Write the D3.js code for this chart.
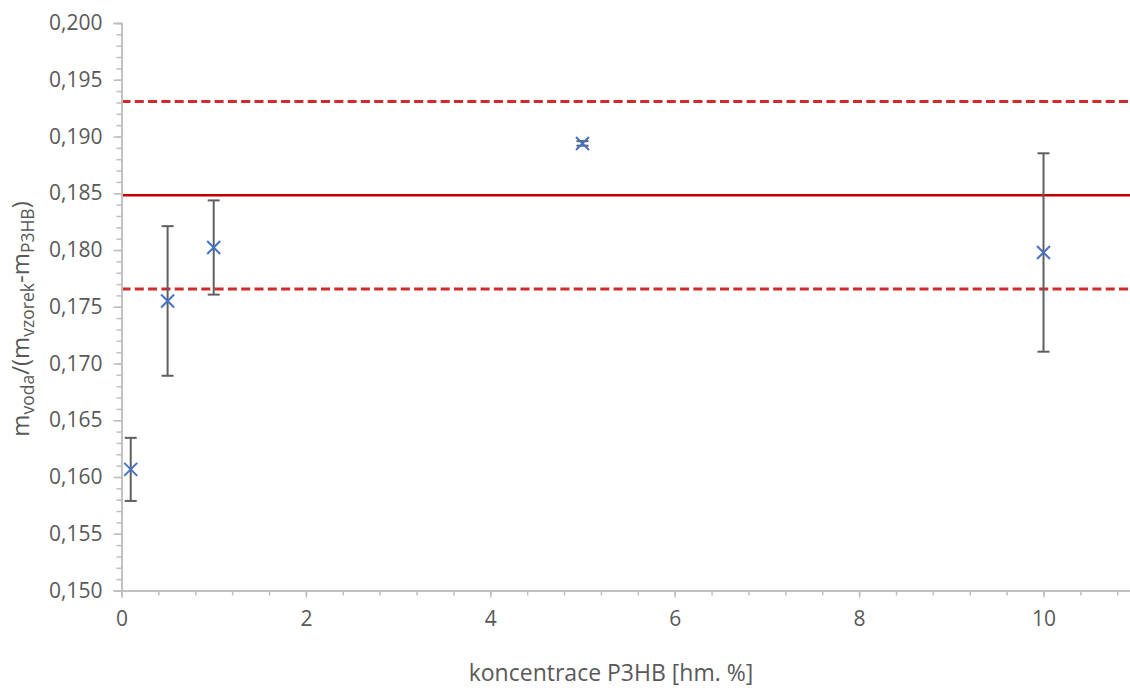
<!DOCTYPE html>
<html>
<head>
<meta charset="utf-8">
<script src="https://cdn.jsdelivr.net/npm/d3@7"></script>
<style>
  html, body { margin: 0; padding: 0; background: #fff; }
  svg { display: block; }
  text { font-family: "Open Sans", sans-serif; fill: #595959; }
</style>
</head>
<body>
<svg id="chart" width="1130" height="695"></svg>
<script>
// Water uptake ratio vs. P3HB concentration
const concentration = [0.1, 0.5, 1, 5, 10];
const ratio = [0.16067, 0.17551, 0.18022, 0.18939, 0.17978];
const ratioErr = [0.00278, 0.00659, 0.00415, 0.0002, 0.00874];

// mean and its band
const meanValue = 0.18483;
const bandLow = 0.17657;
const bandHigh = 0.19309;

const xMajorTicks = [0, 2, 4, 6, 8, 10];
const yMajorTicks = [0.150, 0.155, 0.160, 0.165, 0.170, 0.175, 0.180, 0.185, 0.190, 0.195, 0.200];

const svg = d3.select("#chart");
const plotLeft = 121.5, plotTop = 23, plotBottom = 590.5;
const x = d3.scaleLinear().domain([0, 11]).range([plotLeft, plotLeft + 11 * 92.2]);
const y = d3.scaleLinear().domain([0.150, 0.200]).range([plotBottom, plotTop]);

const axisColor = "#bfbfbf";
const fmt = v => d3.format(".3f")(v).replace(".", ",");

// reference lines (mean and band)
const refs = [
  { v: bandHigh, dash: "9,4.3", color: "#d02a2a", w: 3 },
  { v: meanValue, dash: null, color: "#c00000", w: 2.6 },
  { v: bandLow, dash: "9,4.3", color: "#d02a2a", w: 3 }
];
svg.append("g").selectAll("line").data(refs).join("line")
  .attr("x1", x(0)).attr("x2", 1130)
  .attr("y1", d => y(d.v)).attr("y2", d => y(d.v))
  .attr("stroke", d => d.color)
  .attr("stroke-width", d => d.w)
  .attr("stroke-dasharray", d => d.dash);

// y axis: minor ticks every 0.001, labelled majors every 0.005
const yMinor = d3.range(150, 201).map(v => v / 1000);
const yAxisG = svg.append("g").attr("transform", `translate(${plotLeft},0)`);
yAxisG.call(d3.axisLeft(y).tickValues(yMinor).tickSize(5).tickFormat(""));
yAxisG.append("g").call(d3.axisLeft(y).tickValues(yMajorTicks).tickSize(8).tickPadding(11).tickFormat(fmt));
yAxisG.selectAll("path.domain").attr("stroke", axisColor).attr("stroke-width", 1.5);
yAxisG.selectAll(".tick line").attr("stroke", axisColor).attr("stroke-width", 1.5);
yAxisG.selectAll("text").attr("font-size", 21).attr("fill", "#595959")
  .attr("font-family", "Open Sans, sans-serif");

// x axis: minor ticks every 0.4, labelled majors every 2
const xMinor = d3.range(0, 28).map(i => i * 0.4);
const xAxisG = svg.append("g").attr("transform", `translate(0,${plotBottom})`);
xAxisG.call(d3.axisBottom(x).tickValues(xMinor).tickSize(5).tickFormat(""));
xAxisG.append("g").call(d3.axisBottom(x).tickValues(xMajorTicks).tickSize(7).tickPadding(14).tickFormat(d3.format("d")));
xAxisG.selectAll("path.domain").attr("stroke", axisColor).attr("stroke-width", 1.5);
xAxisG.selectAll(".tick line").attr("stroke", axisColor).attr("stroke-width", 1.5);
xAxisG.selectAll("text").attr("font-size", 21).attr("fill", "#595959")
  .attr("font-family", "Open Sans, sans-serif");

// error bars
const pts = concentration.map((c, i) => ({ c, v: ratio[i], e: ratioErr[i] }));
const eb = svg.append("g").attr("stroke", "#5f5f5f").attr("stroke-width", 2);
eb.selectAll("line.stem").data(pts).join("line").attr("class", "stem")
  .attr("x1", d => x(d.c)).attr("x2", d => x(d.c))
  .attr("y1", d => y(d.v - d.e)).attr("y2", d => y(d.v + d.e));
eb.selectAll("line.capT").data(pts).join("line").attr("class", "capT")
  .attr("x1", d => x(d.c) - 6).attr("x2", d => x(d.c) + 6)
  .attr("y1", d => y(d.v + d.e)).attr("y2", d => y(d.v + d.e));
eb.selectAll("line.capB").data(pts).join("line").attr("class", "capB")
  .attr("x1", d => x(d.c) - 6).attr("x2", d => x(d.c) + 6)
  .attr("y1", d => y(d.v - d.e)).attr("y2", d => y(d.v - d.e));

// X markers
const s = 6.5;
svg.append("g").selectAll("path").data(pts).join("path")
  .attr("d", d => {
    const cx = x(d.c), cy = y(d.v);
    return `M${cx - s},${cy - s}L${cx + s},${cy + s}M${cx - s},${cy + s}L${cx + s},${cy - s}`;
  })
  .attr("stroke", "#4472c4").attr("stroke-width", 2).attr("fill", "none");

// axis titles
svg.append("text")
  .attr("x", 611).attr("y", 681)
  .attr("text-anchor", "middle").attr("font-size", 23)
  .text("koncentrace P3HB [hm. %]");

const yt = svg.append("text")
  .attr("transform", "translate(29,319) rotate(-90)")
  .attr("text-anchor", "middle").attr("font-size", 24);
yt.append("tspan").text("m");
yt.append("tspan").attr("font-size", 17.5).attr("dy", 5).text("voda");
yt.append("tspan").attr("dy", -5).text("/(m");
yt.append("tspan").attr("font-size", 17.5).attr("dy", 5).text("vzorek");
yt.append("tspan").attr("dy", -5).text("-m");
yt.append("tspan").attr("font-size", 17.5).attr("dy", 5).text("P3HB");
yt.append("tspan").attr("dy", -5).text(")");
</script>
</body>
</html>
